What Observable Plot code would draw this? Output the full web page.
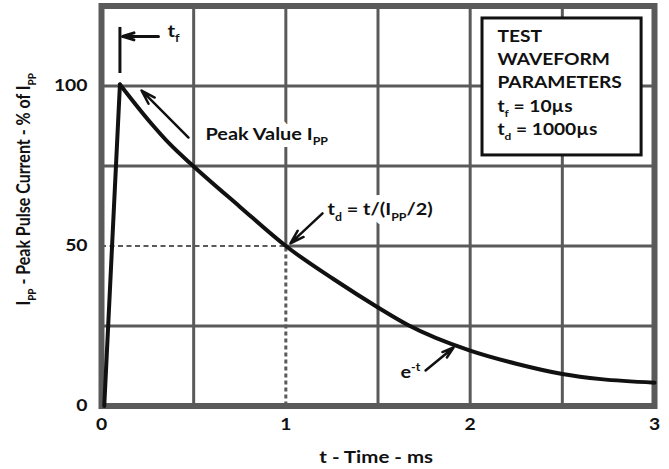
<!DOCTYPE html>
<html><head><meta charset="utf-8">
<script src="https://cdn.jsdelivr.net/npm/d3@7"></script>
<script src="https://cdn.jsdelivr.net/npm/@observablehq/plot@0.6"></script>
<style>
html,body{margin:0;padding:0;background:#fff;}
#chart svg{display:block;}
</style></head><body><div id="chart"></div>
<script>
// ---- data ----
const riseTime = [0.015, 0.1];
const risePct = [0, 100.5];
const decayTime = [0.1, 0.27, 0.37, 0.49, 0.75, 1.0, 1.26, 1.5, 1.66, 2.0, 2.25, 2.5, 2.71, 3.0];
const decayPct = [100.5, 88.3, 81.9, 75.4, 62.3, 50, 39.6, 30.8, 25.4, 17.3, 13.2, 10.0, 8.4, 7.3];
const xTicks = [0, 1, 2, 3];
const yTicks = [0, 50, 100];
const xGrid = [0.5, 1.5, 2, 2.5];
const yGrid = [25, 75, 100];
const halfTime = [1];
const halfPct = [50];
const boxLines = ["TEST", "WAVEFORM", "PARAMETERS", "t_{f} = 10µs", "t_{d} = 1000µs"];
const xLabel = ["t - Time - ms"];
const yLabel = ["I_{PP} - Peak Pulse Current - % of I_{PP}"];
const tfLabel = ["t_{f}"];
const peakLabel = ["Peak Value I_{PP}"];
const tdLabel = ["t_{d} = t/(I_{PP}/2)"];
const expLabel = ["e^{-t}"];

const GRID = "#5a5a5a";
const INK = "#111";
const FONT = "Lato, 'Open Sans', sans-serif";
const ARROW = {stroke: INK, strokeWidth: 3, headLength: 9, headAngle: 34};
const STRETCH = 1.17; // the reference lettering is drawn horizontally widened

const chart = Plot.plot({
  width: 669,
  height: 469,
  marginLeft: 101,
  marginRight: 15,
  marginTop: 5.5,
  marginBottom: 63.5,
  style: {fontFamily: FONT, fontWeight: "bold", color: INK, background: "#fff"},
  x: {domain: [0, 3]},
  y: {domain: [0, 125]},
  marks: [
    // grid
    Plot.ruleX(xGrid, {stroke: GRID, strokeWidth: 3}),
    Plot.ruleX(halfTime, {y1: 50, y2: 125, stroke: GRID, strokeWidth: 3}),
    Plot.ruleY(yGrid, {stroke: GRID, strokeWidth: 3}),
    Plot.ruleY(halfPct, {x1: 1, x2: 3, stroke: GRID, strokeWidth: 3}),
    // dashed 50% guides
    Plot.ruleY(halfPct, {x1: 0, x2: 1, stroke: GRID, strokeWidth: 2, strokeDasharray: "5,3.5"}),
    Plot.ruleX(halfTime, {y1: 0, y2: 50, stroke: GRID, strokeWidth: 3, strokeDasharray: "4,3"}),
    Plot.frame({stroke: GRID, strokeWidth: 6}),
    // parameter box
    Plot.rect([0], {x1: 2.067, x2: 2.93, y1: 78.3, y2: 121.1, fill: "#fff", stroke: INK, strokeWidth: 3}),
    Plot.text(boxLines, {x: 2.148, y: (d, i) => 115.5 - i * 7.3, text: d => d, textAnchor: "start", lineAnchor: "middle", fontSize: 16.4, fill: INK}),
    // white backing behind labels sitting on grid lines
    Plot.text(peakLabel, {x: 0.564, y: 84.7, text: d => d, textAnchor: "start", lineAnchor: "middle", fontSize: 17, fill: "#fff", stroke: "#fff", strokeWidth: 14}),
    Plot.text(tdLabel, {x: 1.226, y: 61.25, text: d => d, textAnchor: "start", lineAnchor: "middle", fontSize: 17, fill: "#fff", stroke: "#fff", strokeWidth: 14}),
    // waveform
    Plot.line(d3.range(riseTime.length), {x: i => riseTime[i], y: i => risePct[i], stroke: INK, strokeWidth: 4, strokeLinecap: "round"}),
    Plot.line(d3.range(decayTime.length), {x: i => decayTime[i], y: i => decayPct[i], curve: "monotone-x", stroke: INK, strokeWidth: 4, strokeLinejoin: "round"}),
    // t_f marker
    Plot.ruleX([0.1], {y1: 103.9, y2: 118.3, stroke: INK, strokeWidth: 3}),
    Plot.arrow([0], {x1: 0.309, y1: 115.5, x2: 0.114, y2: 115.5, ...ARROW}),
    Plot.text(tfLabel, {x: 0.358, y: 117, text: d => d, textAnchor: "start", lineAnchor: "middle", fontSize: 17.5, fill: INK}),
    // peak annotation
    Plot.arrow([0], {x1: 0.472, y1: 83.9, x2: 0.217, y2: 98.6, ...ARROW, strokeWidth: 2.5}),
    Plot.text(peakLabel, {x: 0.564, y: 84.7, text: d => d, textAnchor: "start", lineAnchor: "middle", fontSize: 17, fill: INK}),
    // t_d annotation
    Plot.arrow([0], {x1: 1.199, y1: 60.2, x2: 1.025, y2: 50.8, ...ARROW, strokeWidth: 2.5}),
    Plot.text(tdLabel, {x: 1.226, y: 61.25, text: d => d, textAnchor: "start", lineAnchor: "middle", fontSize: 17, fill: INK}),
    // e^-t annotation
    Plot.arrow([0], {x1: 1.758, y1: 11.1, x2: 1.91, y2: 18.3, ...ARROW, strokeWidth: 2.5}),
    Plot.text(expLabel, {x: 1.622, y: 10.6, text: d => d, textAnchor: "start", lineAnchor: "middle", fontSize: 17, fill: INK}),
    // axes
    Plot.axisX(xTicks, {tickSize: 0, tickPadding: 12, fontSize: 16.5, label: null, fill: INK, tickFormat: d => String(d)}),
    Plot.axisY(yTicks, {tickSize: 0, tickPadding: 14, fontSize: 16.5, label: null, fill: INK, tickFormat: d => String(d)}),
    Plot.text(xLabel, {x: 1.49, y: 0, dy: 51.5, text: d => d, textAnchor: "middle", lineAnchor: "middle", fontSize: 17.5, fill: INK}),
    Plot.text(yLabel, {x: 0, y: 67.7, dx: -77, rotate: -90, text: d => d, textAnchor: "middle", lineAnchor: "middle", fontSize: 16, fill: INK})
  ]
});

document.getElementById("chart").appendChild(chart);

// turn _{..} / ^{..} markers into real sub/superscript tspans; widen lettering horizontally on screen
(function richText(svg) {
  const NS = "http://www.w3.org/2000/svg";
  svg.querySelectorAll("text").forEach(el => {
    const tr = el.getAttribute("transform");
    if (tr) el.setAttribute("transform", tr + (/rotate/.test(tr) ? ` scale(1,${STRETCH})` : ` scale(${STRETCH},1)`));
    const s = el.textContent;
    if (!/[_^]\{/.test(s)) return;
    const fs = parseFloat(getComputedStyle(el).fontSize) || 16;
    while (el.firstChild) el.removeChild(el.firstChild);
    const re = /([_^])\{([^}]*)\}/g;
    let last = 0, m, shift = 0;
    const add = (txt, dy, small) => {
      const ts = document.createElementNS(NS, "tspan");
      ts.textContent = txt;
      if (dy) ts.setAttribute("dy", dy.toFixed(2));
      if (small) ts.setAttribute("font-size", (fs * 0.62).toFixed(2));
      el.appendChild(ts);
    };
    while ((m = re.exec(s))) {
      if (m.index > last) { add(s.slice(last, m.index), -shift, false); shift = 0; }
      const d = m[1] === "_" ? fs * 0.3 : -fs * 0.4;
      add(m[2], d - shift, true);
      shift = d;
      last = re.lastIndex;
    }
    if (last < s.length) add(s.slice(last), -shift, false);
  });
})(chart);
</script>
</body></html>
